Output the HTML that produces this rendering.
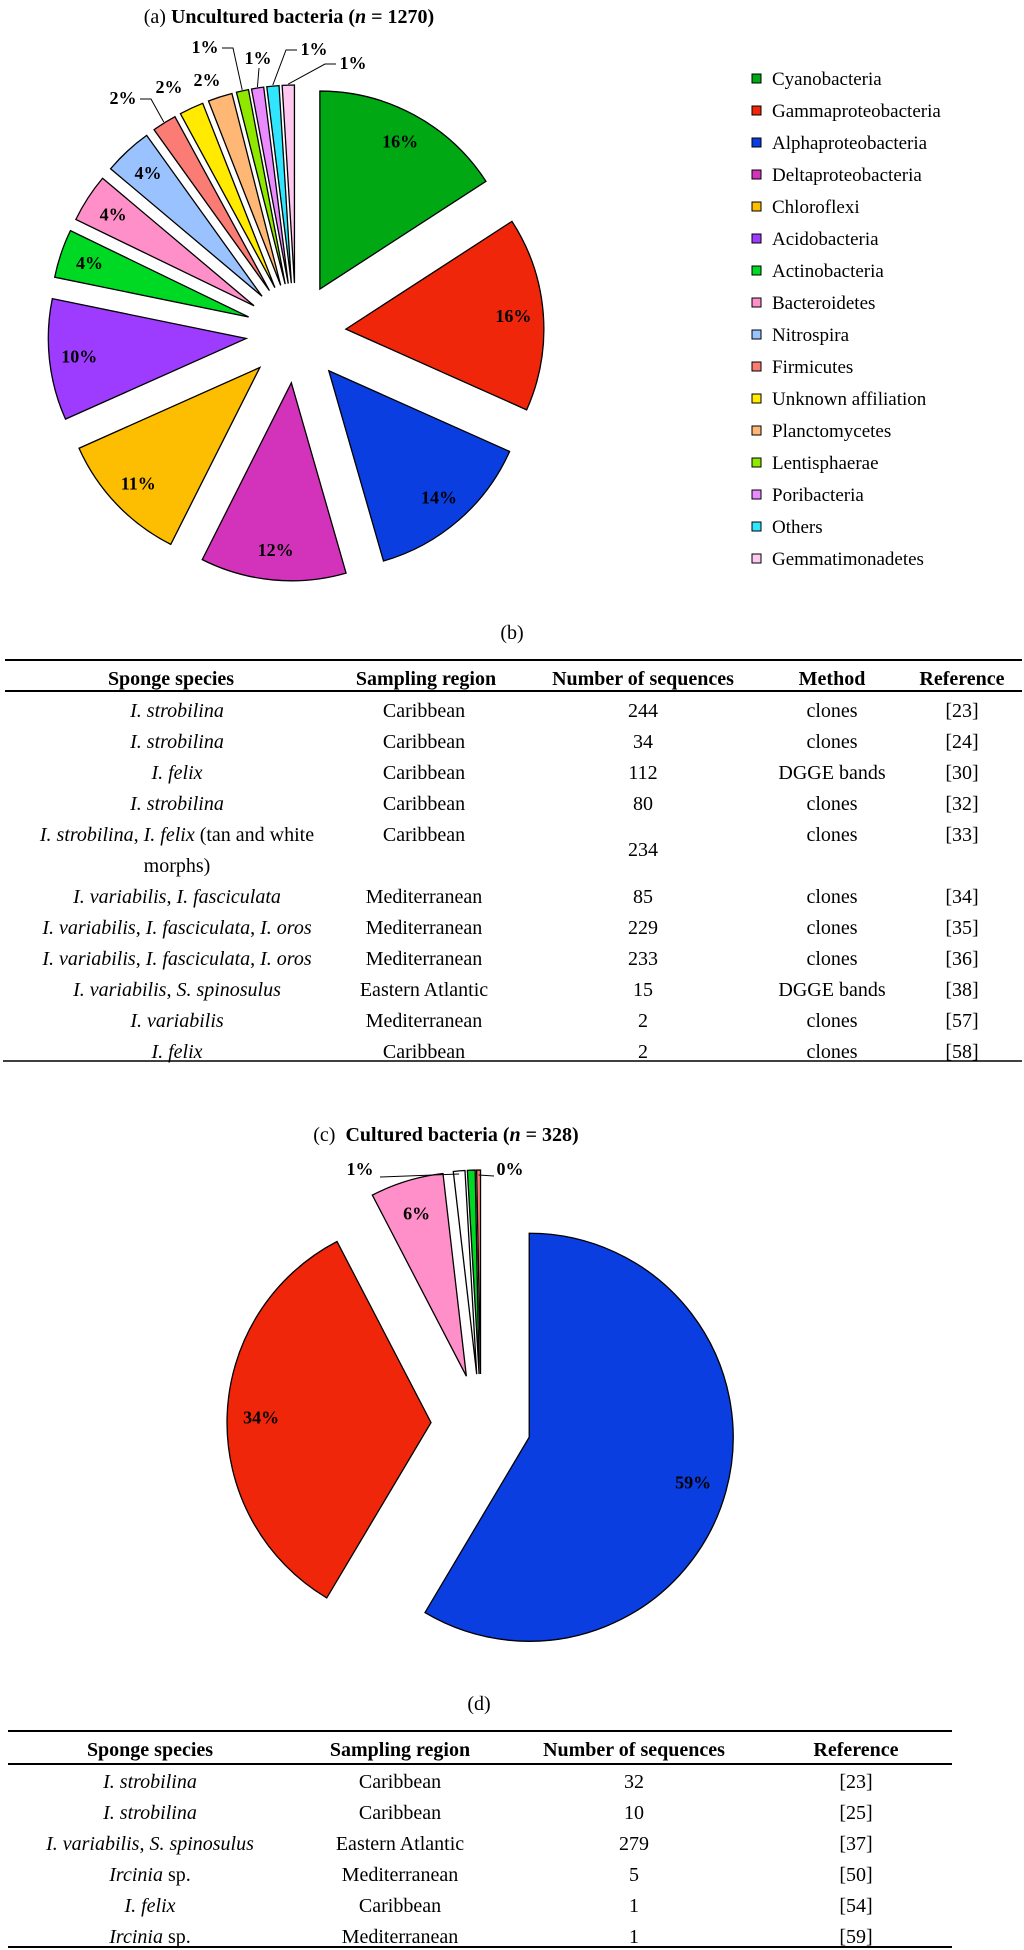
<!DOCTYPE html>
<html><head><meta charset="utf-8">
<style>
html,body{margin:0;padding:0;background:#fff;}
svg{display:block;font-family:"Liberation Serif",serif;}
</style></head>
<body>
<svg id="fig" width="1024" height="1950" viewBox="0 0 1024 1950" xmlns="http://www.w3.org/2000/svg">
<g id="pieA"></g>
<g id="legendA"></g>
<g id="pieC"></g>
<g id="tables"></g>
</svg>
<script>
// ---- Pie (a) data ----
const catsA = ["Cyanobacteria","Gammaproteobacteria","Alphaproteobacteria","Deltaproteobacteria","Chloroflexi","Acidobacteria","Actinobacteria","Bacteroidetes","Nitrospira","Firmicutes","Unknown affiliation","Planctomycetes","Lentisphaerae","Poribacteria","Others","Gemmatimonadetes"];
const valsA = [16,16,14,12,11,10,4,4,4,2,2,2,1,1,1,1];
const colorsA = ["#00a814","#f0260a","#0a3ee0","#d333bb","#fdbd00","#9d3bff","#00d923","#ff8fc8","#99c2ff","#fb7c75","#ffea00","#ffb776","#90e800","#e98bff","#30e6ff","#ffc8f0"];
// ---- Pie (c) data ----
const valsC = [192,111,19,3,2,1];
const colorsC = ["#0a3ee0","#f0260a","#ff8fc8","#ffffff","#00d923","#fb7c75"];
const showLabelC = [true,true,true,true,false,true];

const NS="http://www.w3.org/2000/svg";
function mk(tag,attrs,parent){const e=document.createElementNS(NS,tag);for(const k in attrs)e.setAttribute(k,attrs[k]);parent.appendChild(e);return e;}
function dir(t){return [Math.sin(t),-Math.cos(t)];}

function drawPie(g,vals,colors,cx,cy,r,ex){
  const tot=vals.reduce((a,b)=>a+b,0);
  let acc=0;const info=[];
  vals.forEach((v,i)=>{
    const a0=acc/tot*2*Math.PI;acc+=v;const a1=acc/tot*2*Math.PI;
    const bm=(a0+a1)/2;const d=dir(bm);
    const ax=cx+ex*d[0],ay=cy+ex*d[1];
    const p0=dir(a0),p1=dir(a1);
    const large=(a1-a0)>Math.PI?1:0;
    const path="M"+ax+","+ay+" L"+(ax+r*p0[0])+","+(ay+r*p0[1])+" A"+r+","+r+" 0 "+large+" 1 "+(ax+r*p1[0])+","+(ay+r*p1[1])+" Z";
    const s=mk("path",{d:path,fill:colors[i],stroke:"#000","stroke-width":1.3,"stroke-linejoin":"miter"},g);
    
    
    info.push({ax,ay,d,pct:Math.round(v/tot*100)});
  });
  return info;
}
function leader(g,pts){
  const ln=mk("polyline",{points:pts.map(p=>p[0]+","+p[1]).join(" "),fill:"none",stroke:"#000","stroke-width":1},g);
  
  
}

// Pie A
(function(){
  const g=document.getElementById('pieA');
  const t=mk("text",{x:289,y:23,"text-anchor":"middle","font-size":20},g);
  
  
  t.innerHTML='(a) <tspan font-weight="bold">Uncultured bacteria (<tspan font-style="italic">n</tspan> = 1270)</tspan>';
  const cx=296,cy=333,r=198;
  const info=drawPie(g,valsA,colorsA,cx,cy,r,50);
  const tot=valsA.reduce((a,b)=>a+b,0);
  // external label anchors for small slices (annotation layout)
  const ext={9:[123,104,'r'],10:[169,93,'n'],11:[207,86,'n'],12:[205,53,'r'],13:[258,64,'d'],14:[314,55,'L'],15:[353,69,'L']};
  info.forEach((s,i)=>{
    const txt=Math.round(valsA[i]/tot*101)+"%";
    let lx,ly;
    if(ext[i]){
      lx=ext[i][0];ly=ext[i][1];
      const ox=s.ax+(r+1)*s.d[0],oy=s.ay+(r+1)*s.d[1];
      const mode=ext[i][2];
      if(mode==='r')leader(g,[[lx+17,ly-5],[lx+28,ly-5],[ox,oy]]);
      if(mode==='L')leader(g,[[lx-17,ly-5],[lx-28,ly-5],[ox,oy]]);
      if(mode==='d')leader(g,[[lx+1,ly+4],[ox,oy]]);
    } else {
      lx=s.ax+168*s.d[0];ly=s.ay+168*s.d[1]+6;
    }
    const tx=mk("text",{x:lx,y:ly,"text-anchor":"middle","font-size":18,"font-weight":"bold"},g);
    
    
    tx.textContent=txt;
  });
  // legend
  const lg=document.getElementById('legendA');
  catsA.forEach((c,i)=>{
    const y=79+i*32;
    const sq=mk("rect",{x:752,y:y-5,width:9,height:9,fill:colorsA[i],stroke:"#000","stroke-width":1},lg);
    
    
    const tx=mk("text",{x:772,y:y+6,"font-size":19},lg);
    
    
    tx.textContent=c;
  });
})();

// Pie C
(function(){
  const g=document.getElementById('pieC');
  const t=mk("text",{x:446,y:1141,"text-anchor":"middle","font-size":20},g);
  
  
  t.innerHTML='(c)&#160; <tspan font-weight="bold">Cultured bacteria (<tspan font-style="italic">n</tspan> = 328)</tspan>';
  const r=204;
  const info=drawPie(g,valsC,colorsC,481,1424,r,50);
  info.forEach((s,i)=>{
    if(!showLabelC[i])return;
    const txt=s.pct+"%";
    let lx,ly;
    if(i===3){lx=360;ly=1175;
      leader(g,[[380,1177],[s.ax+r*s.d[0],s.ay+r*s.d[1]+3]]);}
    else if(i===5){lx=510;ly=1175;
      leader(g,[[494,1176],[s.ax+(r-2)*s.d[0],s.ay+(r-2)*s.d[1]+3]]);}
    else {lx=s.ax+170*s.d[0];ly=s.ay+170*s.d[1]+6;}
    const tx=mk("text",{x:lx,y:ly,"text-anchor":"middle","font-size":18,"font-weight":"bold"},g);
    
    
    tx.textContent=txt;
  });
})();

// Tables
const tblB=[
 ["<i>I. strobilina</i>","Caribbean","244","clones","[23]"],
 ["<i>I. strobilina</i>","Caribbean","34","clones","[24]"],
 ["<i>I. felix</i>","Caribbean","112","DGGE bands","[30]"],
 ["<i>I. strobilina</i>","Caribbean","80","clones","[32]"],
 ["TWO","Caribbean","234","clones","[33]"],
 ["<i>I. variabilis</i>, <i>I. fasciculata</i>","Mediterranean","85","clones","[34]"],
 ["<i>I. variabilis</i>, <i>I. fasciculata</i>, <i>I. oros</i>","Mediterranean","229","clones","[35]"],
 ["<i>I. variabilis</i>, <i>I. fasciculata</i>, <i>I. oros</i>","Mediterranean","233","clones","[36]"],
 ["<i>I. variabilis</i>, <i>S. spinosulus</i>","Eastern Atlantic","15","DGGE bands","[38]"],
 ["<i>I. variabilis</i>","Mediterranean","2","clones","[57]"],
 ["<i>I. felix</i>","Caribbean","2","clones","[58]"]];
const tblD=[
 ["<i>I. strobilina</i>","Caribbean","32","[23]"],
 ["<i>I. strobilina</i>","Caribbean","10","[25]"],
 ["<i>I. variabilis</i>, <i>S. spinosulus</i>","Eastern Atlantic","279","[37]"],
 ["<i>Ircinia</i> sp.","Mediterranean","5","[50]"],
 ["<i>I. felix</i>","Caribbean","1","[54]"],
 ["<i>Ircinia</i> sp.","Mediterranean","1","[59]"]];
(function(){
  const g=document.getElementById('tables');
  function T(x,y,html,bold,name){const t=mk("text",{x:x,y:y,"text-anchor":"middle","font-size":20},g);if(bold)t.setAttribute("font-weight","bold");t.innerHTML=html;return t;}
  function L(x1,x2,y,w,name){const l=mk("line",{x1:x1,x2:x2,y1:y,y2:y,stroke:"#000","stroke-width":w},g);}
  const it=s=>s.replace(/<i>/g,"<tspan font-style='italic'>").replace(/<\/i>/g,"</tspan>");
  // table b
  T(512,639,"(b)",false,"table-b-caption");
  L(5,1022,660,2,"table-b-top-rule");
  const hb=["Sponge species","Sampling region","Number of sequences","Method","Reference"];
  const cb=[171,426,643,832,962];
  hb.forEach((h,i)=>T(cb[i],685,h,true,"table-b-header"));
  L(5,1022,691,2,"table-b-header-rule");
  let y=717;
  tblB.forEach(row=>{
    if(row[0]==="TWO"){
      T(177,y,"<tspan font-style='italic'>I. strobilina</tspan>, <tspan font-style='italic'>I. felix</tspan> (tan and white",false,"table-b-cell");
      T(177,y+31,"morphs)",false,"table-b-cell");
      T(cb[1]-2,y,row[1],false,"table-b-cell");
      T(cb[2],y+15,row[2],false,"table-b-cell");
      T(cb[3],y,row[3],false,"table-b-cell");
      T(cb[4],y,row[4],false,"table-b-cell");
      y+=62;return;
    }
    row.forEach((c,i)=>T(i===0?177:(i===1?cb[1]-2:cb[i]),y,it(c),false,"table-b-cell"));
    y+=31;
  });
  L(3,1022,1061,1.5,"table-b-bottom-rule");
  // table d
  T(479,1710,"(d)",false,"table-d-caption");
  L(8,952,1731,2,"table-d-top-rule");
  const hd=["Sponge species","Sampling region","Number of sequences","Reference"];
  const cd=[150,400,634,856];
  hd.forEach((h,i)=>T(cd[i],1756,h,true,"table-d-header"));
  L(8,952,1764,2,"table-d-header-rule");
  tblD.forEach((row,ri)=>{
    const yy=1788+ri*31;
    row.forEach((c,i)=>T(cd[i],yy,it(c),false,"table-d-cell"));
  });
  L(8,952,1947,2,"table-d-bottom-rule");
})();
</script>
</body></html>
